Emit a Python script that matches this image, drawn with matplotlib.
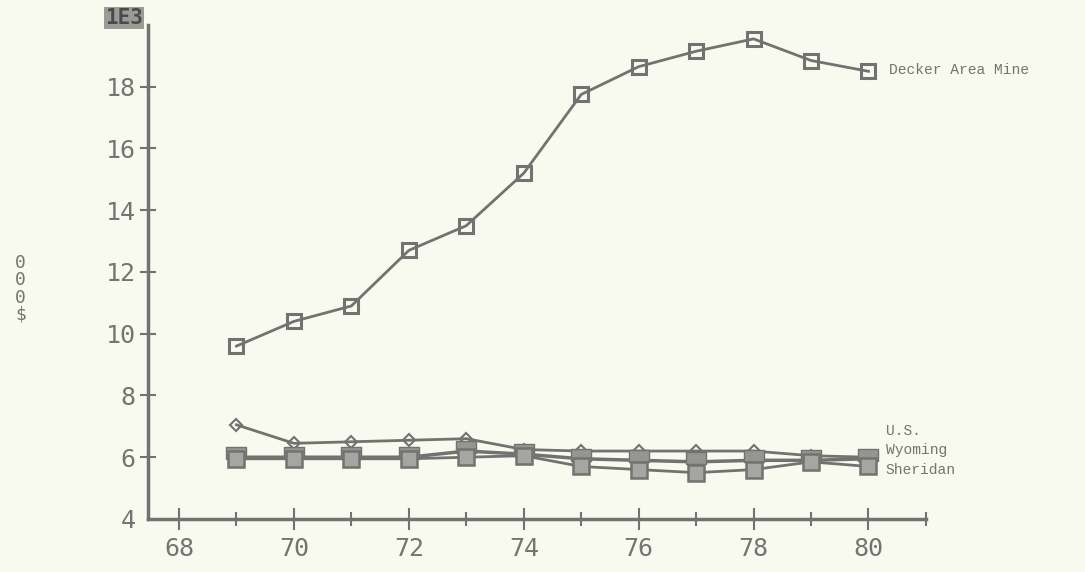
import numpy as np
import matplotlib
matplotlib.use('Agg')
import matplotlib.pyplot as plt
from matplotlib.path import Path
from matplotlib.ticker import MultipleLocator

# years (19xx) and values in thousands of dollars
years = [69, 70, 71, 72, 73, 74, 75, 76, 77, 78, 79, 80]
decker = [9.6, 10.4, 10.9, 12.7, 13.5, 15.2, 17.75, 18.65, 19.15, 19.55, 18.85, 18.5]
us = [7.05, 6.45, 6.5, 6.55, 6.6, 6.25, 6.2, 6.2, 6.2, 6.2, 6.05, 6.0]
wyoming = [6.0, 6.0, 6.0, 6.0, 6.2, 6.1, 5.95, 5.9, 5.85, 5.9, 5.9, 5.95]
sheridan = [5.95, 5.95, 5.95, 5.95, 6.0, 6.05, 5.7, 5.6, 5.5, 5.6, 5.85, 5.7]

BG = '#f8f9ef'
INK = '#727270'
TXT = '#747472'

# box with two legs hanging down, like the plotter symbol
leg_verts = [(-1, -0.2), (1, -0.2), (1, 1), (-1, 1), (-1, -0.2),
             (-0.7, -0.2), (-0.3, -0.2), (-0.3, -1), (-0.7, -1), (-0.7, -0.2),
             (0.3, -0.2), (0.7, -0.2), (0.7, -1), (0.3, -1), (0.3, -0.2)]
leg_codes = ([Path.MOVETO] + [Path.LINETO] * 3 + [Path.CLOSEPOLY]) * 3
legs = Path(leg_verts, leg_codes)

fig = plt.figure(figsize=(10.85, 5.72), dpi=100, facecolor=BG)
ax = fig.add_axes([0.1364, 0.0927, 0.717, 0.8636], facecolor=BG)

ax.plot(years, decker, color=INK, lw=2, marker='s', ms=10, mfc='none', mec=INK, mew=2.2)
ax.plot(years, us, color=INK, lw=2, marker='D', ms=6, mfc='none', mec=INK, mew=1.5)
ax.plot(years, wyoming, color=INK, lw=2.5, marker=legs, ms=14, mfc='#959591', mec=INK, mew=1)
ax.plot(years, sheridan, color=INK, lw=2, marker='s', ms=11, mfc='#a5a5a1', mec=INK, mew=1.8)

lab = dict(fontsize=10.5, color=TXT, family='Liberation Mono', va='center', ha='left')
ax.text(80.35, 18.55, 'Decker Area Mine', **lab)
ax.text(80.3, 6.85, 'U.S.', **lab)
ax.text(80.3, 6.25, 'Wyoming', **lab)
ax.text(80.3, 5.6, 'Sheridan', **lab)

ax.set_xlim(67.46, 81.0)
ax.set_ylim(4, 20)
ax.xaxis.set_major_locator(MultipleLocator(2))
ax.xaxis.set_minor_locator(MultipleLocator(1))
ax.set_yticks([4, 6, 8, 10, 12, 14, 16, 18])
ax.set_xticks([68, 70, 72, 74, 76, 78, 80])

for s in ['top', 'right']:
    ax.spines[s].set_visible(False)
for s in ['left', 'bottom']:
    ax.spines[s].set_color(INK)
    ax.spines[s].set_linewidth(2.5)

ax.tick_params(axis='x', which='major', direction='inout', length=16, width=1.5,
               colors=INK, labelsize=18, labelcolor=TXT, pad=5)
ax.tick_params(axis='x', which='minor', direction='inout', length=10, width=1.5, colors=INK)
ax.tick_params(axis='y', direction='inout', length=12, width=1.5, colors=INK,
               labelsize=18, labelcolor=TXT, pad=3)
for t in ax.get_xticklabels() + ax.get_yticklabels():
    t.set_family('DejaVu Sans Mono')
    t.set_fontweight('light')
# the 4 at the corner sits left of the axis, no tick drawn
ax.yaxis.get_major_ticks()[0].tick1line.set_visible(False)

# y label: characters stacked upright
fig.text(0.014, 0.495, '0\n0\n0\n$', fontsize=13, color=TXT, linespacing=0.95,
         family='DejaVu Sans Mono', ha='left', va='center')
fig.text(0.097, 0.968, '1E3', fontsize=15, fontweight='bold', color='#4a4a48',
         family='DejaVu Sans Mono', ha='left', va='center',
         bbox=dict(boxstyle='square,pad=0.05', fc='#9a9a96', ec='none'))

fig.savefig('out.png', dpi=100, facecolor=BG)
